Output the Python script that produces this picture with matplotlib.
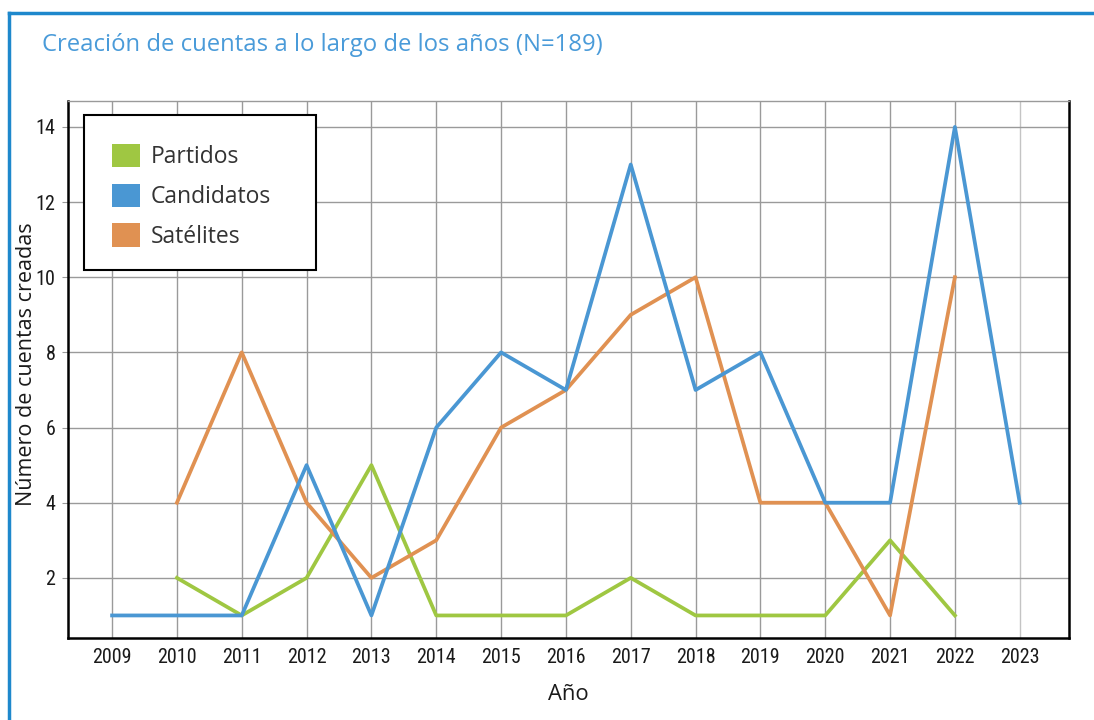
import matplotlib
matplotlib.use("Agg")
import matplotlib.pyplot as plt
from matplotlib.patches import Patch, Rectangle
from matplotlib.lines import Line2D

# datos
years = list(range(2009, 2024))
partidos_years = list(range(2010, 2023))
partidos = [2, 1, 2, 5, 1, 1, 1, 2, 1, 1, 1, 3, 1]
candidatos_years = list(range(2009, 2024))
candidatos = [1, 1, 1, 5, 1, 6, 8, 7, 13, 7, 8, 4, 4, 14, 4]
satelites_years = list(range(2010, 2023))
satelites = [4, 8, 4, 2, 3, 6, 7, 9, 10, 4, 4, 1, 10]
y_ticks = [2, 4, 6, 8, 10, 12, 14]

GREEN = '#9fc742'
BLUE = '#4a97d3'
ORANGE = '#e09152'
TITLE_BLUE = '#4a9bd9'
FRAME_BLUE = '#1e88cc'

plt.rcParams['font.family'] = ['Open Sans', 'DejaVu Sans']

fig = plt.figure(figsize=(10.94, 7.2), dpi=100)
ax = fig.add_axes([68 / 1094, 1 - 638 / 720, 1001 / 1094, 537 / 720])

# marco azul de la figura
fig.add_artist(Line2D([9 / 1094, 1], [1 - 13 / 720, 1 - 13 / 720], color=FRAME_BLUE, lw=2.5))
fig.add_artist(Line2D([9 / 1094, 9 / 1094], [0, 1 - 13 / 720], color=FRAME_BLUE, lw=2.5))

fig.text(42 / 1094, 1 - 45 / 720, 'Creación de cuentas a lo largo de los años (N=189)',
         color=TITLE_BLUE, fontsize=17.2, va='center', ha='left')

ax.plot(partidos_years, partidos, color=GREEN, lw=2.7, zorder=3)
ax.plot(satelites_years, satelites, color=ORANGE, lw=2.7, zorder=4)
ax.plot(candidatos_years, candidatos, color=BLUE, lw=2.7, zorder=5)

ax.set_xlim(2008.32, 2023.76)
ax.set_ylim(0.4, 14.69)
ax.set_xticks(years)
ax.set_yticks(y_ticks)
ax.grid(True, color='#9a9a9a', lw=1.0, zorder=0)
ax.set_axisbelow(True)
# la última línea vertical es más clara en el original
ax.get_xgridlines()[-1].set_color('#c4c4c4')

for s in ['left', 'bottom', 'right']:
    ax.spines[s].set_color('black')
    ax.spines[s].set_linewidth(1.8)
ax.spines['top'].set_color('#9a9a9a')
ax.spines['top'].set_linewidth(1.0)

narrow = ['Roboto Condensed', 'Liberation Sans Narrow', 'DejaVu Sans']
ax.tick_params(axis='x', length=0, pad=7)
ax.tick_params(axis='y', length=4, color='#9a9a9a', pad=5)
for lab in ax.get_xticklabels() + ax.get_yticklabels():
    lab.set_family(narrow)
    lab.set_stretch('condensed')
    lab.set_fontsize(14.5)
    lab.set_color('#1a1a1a')

ax.set_xlabel('Año', fontsize=15.8, color='#1a1a1a', va='top')
ax.set_ylabel('Número de cuentas creadas', fontsize=15.5, color='#1a1a1a')
ax.xaxis.set_label_coords(0.5, -46 / 537)
ax.yaxis.set_label_coords(-31 / 1001, 0.51)

# leyenda con marco dibujado aparte
ax.add_patch(Rectangle((16 / 1001, 1 - 169 / 537), 232 / 1001, 155 / 537, transform=ax.transAxes,
                       facecolor='white', edgecolor='black', lw=1.5, zorder=6))
handles = [Patch(facecolor=GREEN, label='Partidos'),
           Patch(facecolor=BLUE, label='Candidatos'),
           Patch(facecolor=ORANGE, label='Satélites')]
leg = ax.legend(handles=handles, loc='upper left', bbox_to_anchor=(44 / 1001, 1 - 43 / 537),
                borderaxespad=0, borderpad=0, frameon=False, fontsize=16.5,
                handlelength=1.2, handleheight=1.2, handletextpad=0.5, labelspacing=0.62)
leg.set_zorder(7)
for t in leg.get_texts():
    t.set_color('#333333')

fig.savefig('out.png', dpi=100)
